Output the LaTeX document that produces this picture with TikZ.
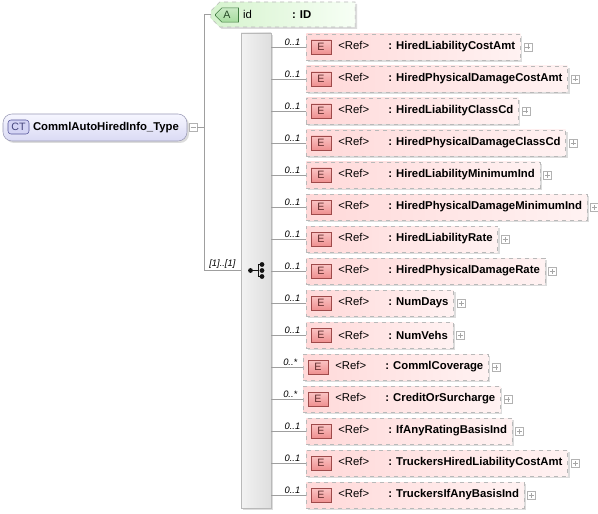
\documentclass[tikz,border=0pt]{standalone}
\usepackage{fontspec}
\setmainfont{Liberation Sans}
\usetikzlibrary{positioning,shadows,shapes.misc}
\newlength\pxu
\setlength\pxu{0.75pt}
\definecolor{cttop}{HTML}{F6F6FF}
\definecolor{ctbot}{HTML}{DADAF4}
\definecolor{ctedge}{HTML}{9A9AB6}
\definecolor{ctbadge}{HTML}{D4D4F4}
\definecolor{ctbadgeedge}{HTML}{55559A}
\definecolor{atleft}{HTML}{D6F3CE}
\definecolor{atright}{HTML}{F7FFF5}
\definecolor{abadge}{HTML}{A6DC9E}
\definecolor{abadgeedge}{HTML}{3F7A3F}
\definecolor{elleft}{HTML}{FFD9D9}
\definecolor{elright}{HTML}{FFF2F2}
\definecolor{ebadgetop}{HTML}{FBC4C4}
\definecolor{ebadgebot}{HTML}{EE9090}
\definecolor{ebadgeedge}{HTML}{9E4A4A}
\tikzset{
  x=0.75pt,y=-0.75pt,
  lbl/.style={font=\fontsize{8.5}{10}\selectfont},
  shade/.style={drop shadow={shadow xshift=2\pxu,shadow yshift=-2\pxu,fill=gray!60,opacity=0.45}},
  conn/.style={draw=gray!75,line width=0.6pt},
  ctbox/.style={lbl,draw=ctedge,top color=cttop,bottom color=ctbot,rounded corners=9\pxu,
    minimum height=27\pxu,inner xsep=0pt,inner ysep=0pt,shade},
  ctbadgebox/.style={draw=ctbadgeedge,fill=ctbadge,rounded corners=3\pxu,minimum width=21\pxu,
    minimum height=14\pxu,inner sep=0pt,text=ctbadgeedge!80!black,font=\fontsize{8}{9}\selectfont},
  atbox/.style={lbl,chamfered rectangle,chamfered rectangle corners={north west,south west},
    chamfered rectangle xsep=5\pxu,draw=gray!55,dashed,left color=atleft,right color=atright,
    minimum height=25\pxu,inner xsep=0pt,inner ysep=0pt,shade},
  abadgebox/.style={chamfered rectangle,chamfered rectangle corners={north west,south west},
    chamfered rectangle xsep=3\pxu,draw=abadgeedge,top color=abadge!60,bottom color=abadge,
    minimum width=23\pxu,minimum height=14\pxu,inner sep=0pt,text=abadgeedge!60!black,
    font=\fontsize{8}{9}\selectfont},
  elbox/.style={lbl,draw=gray!55,dashed,left color=elleft,right color=elright,
    minimum height=26\pxu,inner xsep=0pt,inner ysep=0pt,anchor=west,shade},
  ebadgebox/.style={draw=ebadgeedge,top color=ebadgetop,bottom color=ebadgebot,
    minimum width=20\pxu,minimum height=14\pxu,inner sep=0pt,text=ebadgeedge!60!black,
    font=\fontsize{8}{9}\selectfont},
  seqbar/.style={draw=gray!55,left color=gray!10,right color=gray!26,minimum width=30\pxu,
    minimum height=475\pxu,inner sep=0pt,shade},
  mult/.style={anchor=south east,inner sep=1pt,xshift=-4\pxu,font=\fontsize{7}{8}\selectfont\itshape},
  togglebox/.style={draw=gray!60,fill=white,minimum size=8\pxu,inner sep=0pt},
  plusbox/.style={togglebox,path picture={
    \draw[gray!70,line width=0.4pt] ([xshift=-2.5\pxu]path picture bounding box.center)
      -- ([xshift=2.5\pxu]path picture bounding box.center)
      ([yshift=-2.5\pxu]path picture bounding box.center)
      -- ([yshift=2.5\pxu]path picture bounding box.center);}},
  minusbox/.style={togglebox,path picture={
    \draw[gray!70,line width=0.4pt] ([xshift=-2.5\pxu]path picture bounding box.center)
      -- ([xshift=2.5\pxu]path picture bounding box.center);}}
}
\begin{document}
\begin{tikzpicture}
\useasboundingbox[fill=white] (0,0) rectangle (598,513);
% complex type
\node[ctbox] (ct) at (95,127.5) {\makebox[184\pxu][l]{\hspace*{30\pxu}\textbf{CommlAutoHiredInfo\_Type}}};
\node[ctbadgebox] (ctb) at (18.5,127) {CT};
\node[minusbox,right=1.5\pxu of ct] (ctm) {};
% attribute
\node[atbox] (attr) at (283,14.5) {\makebox[136\pxu][l]{\hspace*{28\pxu}\makebox[49\pxu][l]{id}\textbf{: ID}}};
\node[abadgebox] (ab) at (227,15) {A};
% sequence
\node[seqbar] (seq) at (256,270.5) {};
\begin{scope}[shift={(seq.center)}]
  \draw[gray!15!black,line width=0.7pt] (-5.5,0) -- (2,0) (2,-6) -- (2,6) (2,-6) -- (6,-6) (2,6) -- (6,6);
  \fill[gray!15!black] (-5.5,0) circle (2.4\pxu);
  \foreach \yy in {-6,0,6} \fill[gray!15!black] (6,\yy) circle (2.4\pxu);
\end{scope}
\coordinate (jt) at (204,0);
\draw[conn] (ctm.east) -- (jt |- ctm.east);
\draw[conn] (attr.west) -| (jt |- seq.west) -- (seq.west)
  node[midway,above,inner sep=1.5pt,font=\fontsize{7}{8}\selectfont\itshape] {[1]..[1]};
% elements
\foreach \i/\nm/\mult/\xx in {1/HiredLiabilityCostAmt/0..1/306,2/HiredPhysicalDamageCostAmt/0..1/306,
    3/HiredLiabilityClassCd/0..1/306,4/HiredPhysicalDamageClassCd/0..1/306,
    5/HiredLiabilityMinimumInd/0..1/306,6/HiredPhysicalDamageMinimumInd/0..1/306,
    7/HiredLiabilityRate/0..1/306,8/HiredPhysicalDamageRate/0..1/306,9/NumDays/0..1/306,
    10/NumVehs/0..1/306,11/CommlCoverage/0..*/303,12/CreditOrSurcharge/0..*/303,
    13/IfAnyRatingBasisInd/0..1/306,14/TruckersHiredLiabilityCostAmt/0..1/306,
    15/TruckersIfAnyBasisInd/0..1/306}{
  \node[elbox] (el\i) at (\xx,{15+32*\i}) {\hspace*{32\pxu}\makebox[50\pxu][l]{<Ref>}\textbf{: \nm}\hspace*{5\pxu}};
  \node[ebadgebox] (eb\i) at ([xshift=15\pxu]el\i.west) {E};
  \node[plusbox,right=3\pxu of el\i] (pl\i) {};
  \draw[conn] (seq.east |- el\i.west) -- (el\i.west) node[mult,pos=1] {\mult};
}
\end{tikzpicture}
\end{document}
